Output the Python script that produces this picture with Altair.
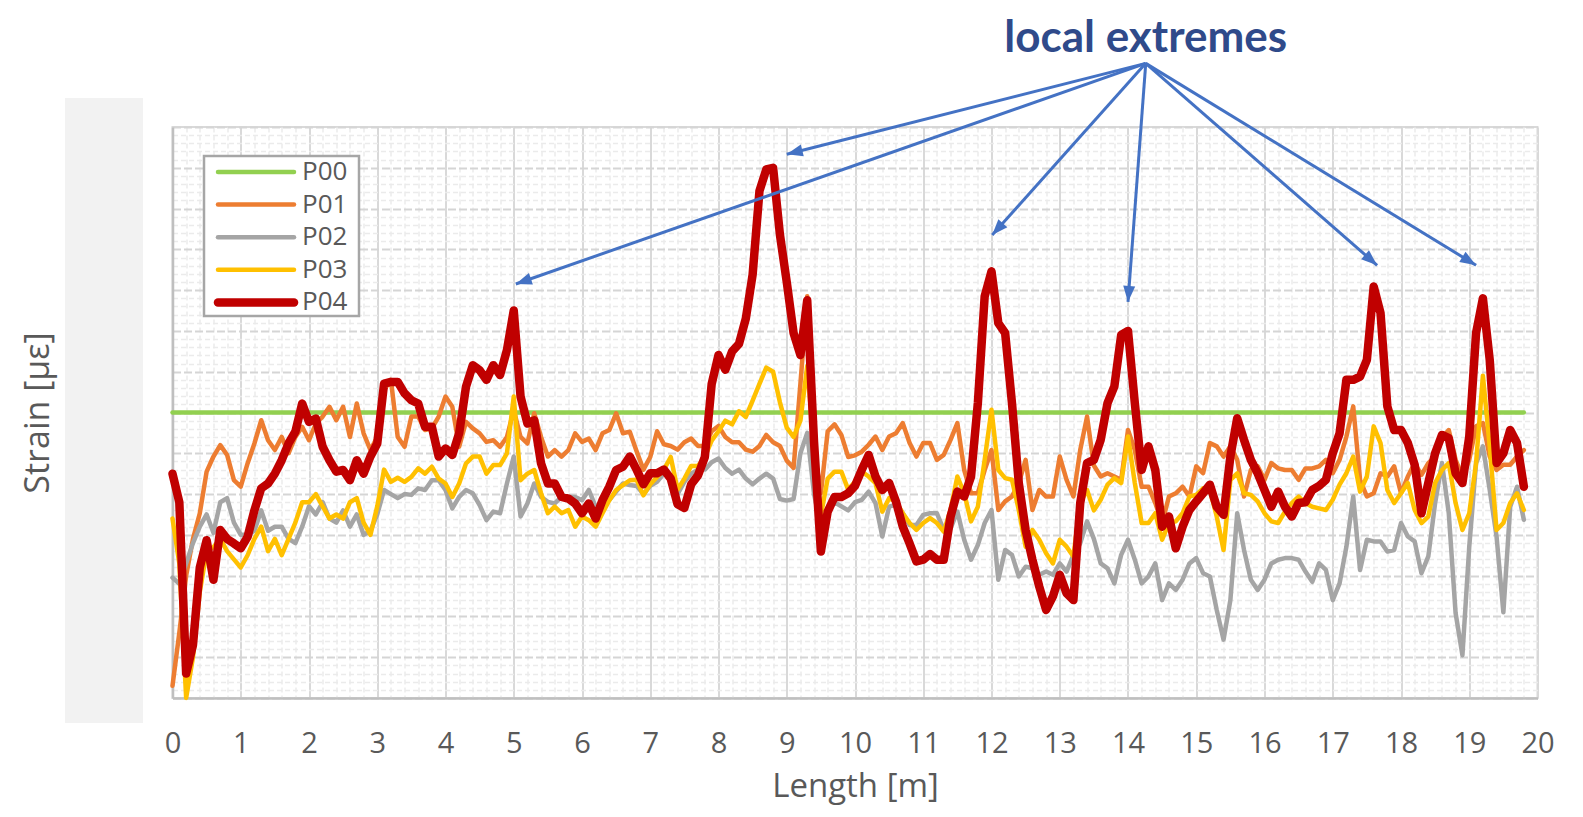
import math
import altair as alt
import pandas as pd

# ---------------- data ----------------
length_m = [round(i * 0.1, 1) for i in range(199)]  # 0.0 ... 19.8 m

p00_length = [0.0, 19.8]
p00_strain = [7.0, 7.0]

p01 = [0.3, 1.6, 3.0, 3.9, 4.53, 5.55, 5.92, 6.2, 5.96, 5.34,
       5.18, 5.75, 6.24, 6.81, 6.32, 6.08, 6.4, 6.0, 6.4, 6.65,
       6.32, 6.73, 6.9, 7.14, 6.81, 7.14, 6.4, 7.22, 6.49, 6.08,
       6.4, 7.55, 7.8, 6.4, 6.16, 6.9, 6.9, 6.57, 6.61, 6.9,
       7.39, 7.14, 6.16, 6.77, 6.61, 6.49, 6.28, 6.32, 6.16, 6.4,
       7.06, 6.4, 6.24, 6.98, 6.4, 5.92, 6.08, 5.92, 6.08, 6.49,
       6.28, 6.36, 6.08, 6.49, 6.57, 6.98, 6.49, 6.53, 6.05, 5.6,
       5.91, 6.54, 6.22, 6.18, 6.09, 6.27, 6.36, 6.18, 6.18, 6.54,
       6.67, 6.4, 6.27, 6.27, 6.09, 6.04, 6.18, 6.45, 6.27, 6.18,
       5.82, 5.64, 7.7, 9.85, 6.09, 5.02, 6.54, 6.71, 6.45, 5.91,
       5.95, 6.04, 6.21, 6.41, 6.08, 6.41, 6.49, 6.74, 6.25, 5.92,
       6.25, 6.25, 5.84, 5.96, 6.33, 6.74, 5.59, 5.02, 5.02, 5.59,
       6.08, 4.61, 4.82, 4.94, 5.27, 5.84, 4.61, 5.1, 4.94, 4.94,
       5.92, 5.35, 4.94, 6.08, 6.9, 5.7, 5.43, 5.51, 5.43, 5.35,
       6.57, 6.08, 5.18, 5.18, 4.78, 4.29, 4.94, 5.02, 5.18, 4.94,
       5.68, 5.51, 6.25, 6.17, 5.92, 6.17, 5.84, 4.94, 5.59, 5.68,
       5.35, 5.76, 5.63, 5.59, 5.59, 5.35, 5.63, 5.63, 5.68, 5.84,
       5.51, 5.84, 6.41, 7.15, 5.35, 4.94, 5.02, 5.51, 5.43, 5.68,
       5.02, 5.43, 5.76, 5.47, 5.76, 5.92, 6.37, 6.57, 5.84, 5.43,
       5.84, 6.66, 6.74, 5.92, 5.59, 5.72, 5.72, 5.92, 6.08]

p02 = [2.95, 2.8, 3.3, 3.8, 4.2, 4.5, 4.05, 4.8, 4.9, 4.3,
       4.0, 4.0, 4.1, 4.6, 4.1, 4.2, 4.2, 3.9, 3.8, 4.2,
       4.7, 4.5, 4.8, 4.4, 4.3, 4.6, 4.2, 4.5, 4.0, 4.1,
       4.5, 5.1, 5.0, 4.9, 5.0, 4.98, 5.14, 5.1, 5.34, 5.34,
       5.1, 4.65, 4.93, 5.1, 5.02, 4.73, 4.36, 4.57, 4.53, 5.26,
       5.92, 4.45, 4.77, 5.26, 4.93, 4.81, 4.77, 4.93, 4.93, 4.93,
       4.85, 5.1, 4.69, 4.73, 4.85, 5.06, 5.26, 5.22, 5.2, 5.0,
       5.2, 5.3, 5.5, 5.4, 5.0, 5.3, 5.5, 5.6, 5.6, 5.78,
       5.87, 5.64, 5.5, 5.6, 5.38, 5.24, 5.38, 5.5, 5.38, 4.88,
       4.84, 4.88, 6.0, 6.5, 5.0, 4.2, 4.6, 4.8, 4.7, 4.6,
       4.8, 4.86, 5.06, 4.78, 3.96, 4.69, 4.74, 4.53, 4.24, 4.24,
       4.49, 4.53, 4.53, 4.12, 4.16, 4.57, 3.88, 3.39, 3.75, 4.29,
       4.61, 2.9, 3.63, 3.51, 2.98, 3.22, 3.18, 3.02, 3.1, 3.02,
       3.3, 3.1, 3.51, 3.79, 4.33, 3.9, 3.3, 3.18, 2.81, 3.51,
       3.88, 3.39, 2.81, 2.98, 3.3, 2.4, 2.81, 2.65, 2.9, 3.3,
       3.43, 3.06, 2.98, 2.16, 1.43, 2.4, 4.53, 3.63, 2.9, 2.65,
       2.9, 3.3, 3.39, 3.43, 3.43, 3.39, 3.1, 2.85, 3.3, 3.14,
       2.4, 2.81, 3.71, 4.94, 3.14, 3.88, 3.84, 3.84, 3.59, 3.63,
       4.29, 3.96, 3.84, 3.06, 3.47, 4.78, 5.76, 4.53, 2.08, 1.05,
       3.71, 5.76, 6.17, 5.1, 3.96, 2.1, 4.69, 5.18, 4.37]

p03 = [4.4, 3.3, 0.0, 1.0, 2.6, 3.6, 3.7, 3.9, 3.6, 3.4,
       3.2, 3.5, 3.9, 4.2, 3.6, 3.9, 3.5, 3.9, 4.3, 4.8,
       4.8, 5.0, 4.7, 4.4, 4.5, 4.4, 4.8, 4.9, 4.3, 4.0,
       4.7, 5.6, 5.3, 5.4, 5.3, 5.42, 5.63, 5.5, 5.67, 5.38,
       5.26, 4.93, 5.26, 5.75, 5.92, 5.92, 5.5, 5.71, 5.71, 6.0,
       7.39, 5.34, 5.5, 5.59, 5.02, 4.53, 4.69, 4.53, 4.61, 4.2,
       4.45, 4.36, 4.2, 4.53, 4.85, 5.1, 5.22, 5.34, 5.35, 4.97,
       5.24, 5.42, 5.6, 5.91, 5.11, 5.38, 5.69, 5.69, 5.91, 6.31,
       6.54, 6.8, 6.71, 7.03, 6.89, 7.29, 7.7, 8.1, 8.0, 7.25,
       6.63, 6.4, 6.8, 8.14, 6.09, 4.48, 5.38, 5.55, 5.55, 5.11,
       5.3, 5.55, 5.43, 5.27, 4.57, 4.9, 4.82, 4.53, 4.29, 4.12,
       4.29, 4.41, 4.29, 4.08, 4.61, 5.43, 5.02, 4.33, 4.69, 5.84,
       7.07, 5.59, 5.39, 5.35, 4.61, 3.71, 4.12, 3.88, 3.55, 3.3,
       3.88, 3.71, 3.47, 4.78, 5.1, 4.6, 4.86, 5.23, 5.39, 5.27,
       6.41, 5.27, 4.29, 4.29, 4.53, 3.88, 4.29, 4.33, 4.53, 4.94,
       4.98, 5.14, 5.1, 4.45, 3.63, 5.35, 5.51, 5.02, 4.98, 4.82,
       4.53, 4.33, 4.29, 4.57, 4.78, 4.94, 4.78, 4.69, 4.65, 4.61,
       4.86, 5.23, 5.51, 5.92, 5.06, 5.43, 6.66, 6.25, 5.1, 4.78,
       5.02, 5.27, 4.61, 4.29, 4.45, 5.27, 5.59, 5.76, 4.78, 4.12,
       4.53, 5.76, 7.9, 6.17, 4.12, 4.29, 4.78, 5.02, 4.61]

p04 = [5.5, 4.8, 0.6, 1.3, 3.2, 3.87, 2.9, 4.12, 3.9, 3.79,
       3.67, 3.95, 4.6, 5.14, 5.26, 5.5, 5.83, 6.24, 6.53, 7.22,
       6.77, 6.85, 6.16, 5.83, 5.55, 5.59, 5.34, 5.83, 5.5, 5.92,
       6.24, 7.71, 7.75, 7.75, 7.47, 7.3, 7.22, 6.65, 6.65, 5.92,
       6.12, 5.96, 6.49, 7.63, 8.16, 8.04, 7.8, 8.16, 7.92, 8.53,
       9.5, 7.39, 6.73, 6.81, 5.75, 5.26, 5.26, 4.93, 4.89, 4.77,
       4.53, 4.77, 4.4, 4.85, 5.18, 5.59, 5.67, 5.92, 5.6, 5.24,
       5.51, 5.51, 5.6, 5.38, 4.75, 4.66, 5.24, 5.46, 5.91, 7.7,
       8.41, 8.05, 8.5, 8.68, 9.3, 10.38, 12.43, 12.96, 13.0, 11.36,
       10.2, 8.95, 8.41, 9.75, 6.27, 3.59, 4.57, 4.93, 4.93, 5.02,
       5.2, 5.6, 5.96, 5.43, 5.1, 5.27, 4.82, 4.2, 3.79, 3.35,
       3.39, 3.53, 3.39, 3.39, 4.45, 5.06, 4.94, 5.43, 7.23, 9.85,
       10.46, 9.19, 8.95, 7.23, 5.27, 4.12, 3.39, 2.73, 2.16, 2.49,
       3.02, 2.57, 2.4, 4.78, 5.76, 5.84, 6.33, 7.23, 7.64, 8.9,
       9.0, 7.23, 5.59, 6.17, 5.59, 4.2, 4.45, 3.67, 4.2, 4.61,
       4.82, 5.02, 5.23, 4.69, 4.49, 5.92, 6.86, 6.33, 5.84, 5.51,
       5.1, 4.69, 5.06, 4.69, 4.45, 4.78, 4.8, 5.1, 5.2, 5.35,
       6.0, 6.49, 7.8, 7.8, 7.88, 8.29, 10.09, 9.44, 7.15, 6.57,
       6.57, 6.25, 5.72, 4.53, 5.27, 6.0, 6.45, 6.37, 5.51, 5.27,
       6.41, 8.95, 9.8, 8.29, 5.76, 6.0, 6.57, 6.25, 5.18]

series_names = ["P00", "P01", "P02", "P03", "P04"]

annotation_text = "local extremes"
arrow_origin_length = 14.26
arrow_origin_strain = 15.56
arrow_tip_length = [5.03, 9.0, 12.01, 14.0, 17.65, 19.1]
arrow_tip_strain = [10.15, 13.33, 11.35, 9.71, 10.61, 10.61]
annotation_text_length = 14.26
annotation_text_strain = 15.83

# ---------------- styles ----------------
series_colors = ["#92D050", "#ED7D31", "#A5A5A5", "#FFC000", "#C00000"]
series_widths = [4.5, 4.5, 4.5, 4.5, 8.5]
TXT = "#595959"
ARROW = "#4472C4"
FONT = "Open Sans"

W, H = 1365, 571
X_DOM = [0, 20]
Y_DOM = [0, 14]
PX_X = W / (X_DOM[1] - X_DOM[0])
PX_Y = H / (Y_DOM[1] - Y_DOM[0])

# ---------------- tables ----------------
frames = [pd.DataFrame({"length": p00_length, "strain": p00_strain, "series": "P00"})]
for name, vals in zip(series_names[1:], [p01, p02, p03, p04]):
    assert len(vals) == len(length_m), name
    frames.append(pd.DataFrame({"length": length_m, "strain": vals, "series": name}))

angles = []
for tx, ty in zip(arrow_tip_length, arrow_tip_strain):
    dx = (tx - arrow_origin_length) * PX_X
    dy = -(ty - arrow_origin_strain) * PX_Y  # screen, downwards positive
    angles.append(math.degrees(math.atan2(dx, -dy)) % 360)
arrows = pd.DataFrame({
    "ox": [arrow_origin_length] * len(arrow_tip_length),
    "oy": [arrow_origin_strain] * len(arrow_tip_length),
    "tx": arrow_tip_length,
    "ty": arrow_tip_strain,
    "angle": angles,
})
label_df = pd.DataFrame({"lx": [annotation_text_length], "ly": [annotation_text_strain],
                         "label": [annotation_text]})

legend_df = pd.DataFrame({
    "series": series_names,
    "ypix": [45 + 32.6 * i for i in range(len(series_names))],
    "lw": series_widths,
})
one = pd.DataFrame({"k": [0]})

# ---------------- scales & axes ----------------
x_scale = alt.Scale(domain=X_DOM, nice=False, zero=False)
y_scale = alt.Scale(domain=Y_DOM, nice=False, zero=False)
color_scale = alt.Scale(domain=series_names, range=series_colors)

MAJOR = "abs(datum.value - round(datum.value)) < 0.001"

x_axis = alt.Axis(
    values=[round(i * 0.2, 1) for i in range(101)],
    labelExpr=f"{MAJOR} ? format(datum.value, 'd') : ''",
    labelFont=FONT, labelFontSize=29, labelColor=TXT,
    labelPadding=45, labelBaseline="middle", labelFlush=False, labelOverlap=False,
    ticks=False, domainColor="#BFBFBF", domainWidth=2.5,
    grid=True,
    gridColor={"condition": {"test": MAJOR, "value": "#D9D9D9"}, "value": "#EBEBEB"},
    gridDash={"condition": {"test": MAJOR, "value": []}, "value": [5, 3]},
    gridWidth={"condition": {"test": MAJOR, "value": 2}, "value": 1.5},
    title="Length [m]", titleFont=FONT, titleFontSize=33, titleFontWeight="normal",
    titleColor=TXT, titleY=88, titleBaseline="middle",
)
y_axis = alt.Axis(
    values=[round(i * 0.2, 1) for i in range(71)],
    labels=False, ticks=False, domainColor="#BFBFBF", domainWidth=2.5,
    grid=True,
    gridColor={"condition": {"test": MAJOR, "value": "#D5D5D5"}, "value": "#EBEBEB"},
    gridDash={"condition": {"test": MAJOR, "value": [8, 3]}, "value": [5, 3]},
    gridWidth={"condition": {"test": MAJOR, "value": 2}, "value": 1.5},
    title="Strain [µε]", titleFont=FONT, titleFontSize=34, titleFontWeight="normal",
    titleColor=TXT, titleX=-134.5, titleY=H / 2, titleAngle=270,
    titleAlign="center", titleBaseline="middle",
)


def X(field):
    return alt.X(f"{field}:Q", scale=x_scale, axis=x_axis)


def Y(field):
    return alt.Y(f"{field}:Q", scale=y_scale, axis=y_axis)


layers = []

# grey panel left of the plot
layers.append(
    alt.Chart(one).mark_rect(color="#F2F2F2").encode(
        x=alt.value(-107.5), x2=alt.value(-29.5), y=alt.value(-29), y2=alt.value(596)
    )
)

# series lines
for name, w, df in zip(series_names, series_widths, frames):
    layers.append(
        alt.Chart(df).mark_line(strokeWidth=w, strokeJoin="round", strokeCap="round").encode(
            x=X("length"), y=Y("strain"),
            color=alt.Color("series:N", scale=color_scale, legend=None),
            order=alt.Order("length:Q"),
        )
    )

# legend (drawn manually)
layers.append(
    alt.Chart(one).mark_rect(fill="white", stroke="#A6A6A6", strokeWidth=2.5).encode(
        x=alt.value(31.5), x2=alt.value(186.5), y=alt.value(29), y2=alt.value(189)
    )
)
layers.append(
    alt.Chart(legend_df).mark_rule(strokeCap="round").encode(
        x=alt.value(45.5), x2=alt.value(121.5),
        y=alt.Y("ypix:Q", scale=None),
        color=alt.Color("series:N", scale=color_scale, legend=None),
        strokeWidth=alt.StrokeWidth("lw:Q", scale=None, legend=None),
    )
)
layers.append(
    alt.Chart(legend_df).mark_text(align="left", baseline="middle", font=FONT,
                                   fontSize=26, color=TXT).encode(
        x=alt.value(129.5), y=alt.Y("ypix:Q", scale=None), text="series:N"
    )
)

# annotation arrows
layers.append(
    alt.Chart(arrows).mark_rule(color=ARROW, strokeWidth=3).encode(
        x=X("ox"), y=Y("oy"), x2="tx:Q", y2="ty:Q"
    )
)
layers.append(
    alt.Chart(arrows).mark_point(shape="M0,0 L0.75,2 L-0.75,2 Z", filled=True, size=256,
                                 color=ARROW, opacity=1, strokeWidth=0).encode(
        x=X("tx"), y=Y("ty"), angle=alt.Angle("angle:Q", scale=None)
    )
)
layers.append(
    alt.Chart(label_df).mark_text(font="Lato", fontWeight="bold", fontSize=44,
                                  color="#2F4A8A", align="center",
                                  baseline="alphabetic").encode(
        x=X("lx"), y=Y("ly"), text="label:N"
    )
)

chart = alt.layer(*layers).properties(
    width=W, height=H,
    padding={"left": 164.5, "top": 119, "right": 30, "bottom": 110},
    autosize=alt.AutoSizeParams(type="none"),
).configure_view(stroke="#D9D9D9", strokeWidth=2)

chart.save("out.html", embed_options={"renderer": "svg", "actions": False})
